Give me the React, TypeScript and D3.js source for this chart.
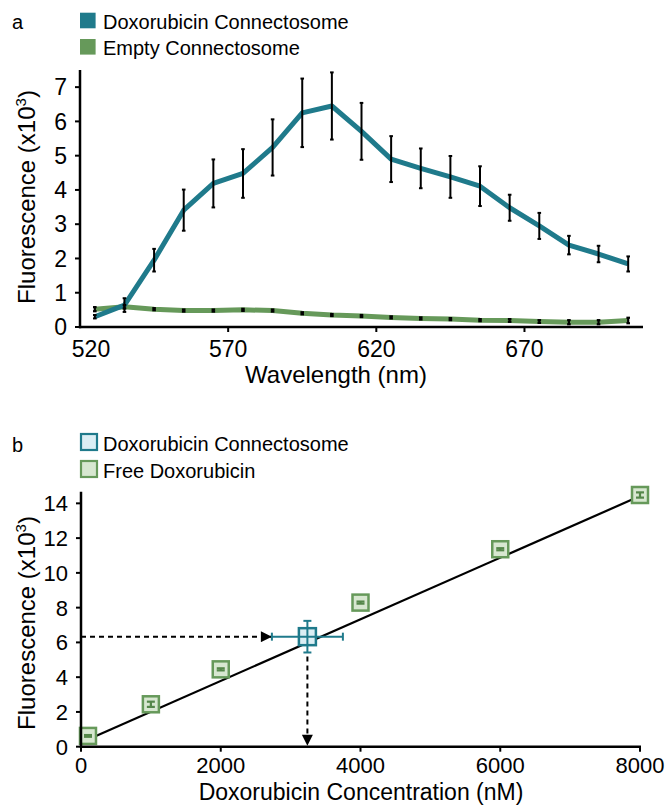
import React from 'react';
import * as d3 from 'd3';

// panel a: emission spectrum
const wavelengths = [525, 535, 545, 555, 565, 575, 585, 595, 605, 615, 625, 635, 645, 655, 665, 675, 685, 695, 705];
const doxoConnecto = [0.3, 0.64, 1.95, 3.41, 4.19, 4.48, 5.24, 6.25, 6.45, 5.71, 4.9, 4.63, 4.38, 4.11, 3.48, 2.95, 2.39, 2.13, 1.84];
const doxoConnectoErr = [0.05, 0.2, 0.33, 0.6, 0.7, 0.71, 0.82, 1.0, 0.98, 0.83, 0.67, 0.58, 0.61, 0.58, 0.38, 0.38, 0.27, 0.24, 0.22];
const emptyConnecto = [0.52, 0.59, 0.52, 0.48, 0.48, 0.5, 0.48, 0.4, 0.35, 0.32, 0.28, 0.25, 0.23, 0.2, 0.19, 0.16, 0.14, 0.14, 0.19];
const emptyConnectoErr = [0.06, 0.05, 0.03, 0.03, 0.03, 0.03, 0.03, 0.03, 0.03, 0.03, 0.03, 0.03, 0.03, 0.03, 0.04, 0.04, 0.06, 0.06, 0.08];
const wlTicks = [520, 570, 620, 670];
const fluoTicksA = [0, 1, 2, 3, 4, 5, 6, 7];

// panel b: standard curve
const freeConc = [100, 1000, 2000, 4000, 6000, 8000];
const freeFluo = [0.62, 2.44, 4.45, 8.29, 11.36, 14.48];
const freeFluoErr = [0.05, 0.15, 0.06, 0.06, 0.06, 0.15];
const fitX = [100, 8000];
const fitY = [0.42, 14.42];
const connectoConc = 3240;
const connectoConcErr = 508;
const connectoFluo = 6.33;
const connectoFluoErr = 0.91;
const concTicks = [0, 2000, 4000, 6000, 8000];
const fluoTicksB = [0, 2, 4, 6, 8, 10, 12, 14];

const BLUE = '#1f7a8b';
const GREEN = '#66995a';
const DKGREEN = '#55874a';
const LTGREEN = '#d7e7d0';
const LTBLUE = '#dbeef4';
const FONT = '"Liberation Sans", Arial, sans-serif';

function App() {
	// Scales
	const xA = d3.scaleLinear().domain([520, 710]).range([80, 643]);
	const yA = d3.scaleLinear().domain([0, 7.5]).range([327, 70]);
	const xB = d3.scaleLinear().domain([0, 8000]).range([81, 640]);
	const yB = d3.scaleLinear().domain([0, 14.67]).range([746.7, 491.7]);

	const lineA = d3
		.line<number>()
		.x((d, i) => xA(wavelengths[i]))
		.y((d) => yA(d));

	const errBar = (x: number, y0: number, y1: number, cap: number, color: string, w: number, key: string) => (
		<g key={key} stroke={color} strokeWidth={w}>
			<line x1={x} x2={x} y1={y0} y2={y1} />
			<line x1={x - cap} x2={x + cap} y1={y0} y2={y0} />
			<line x1={x - cap} x2={x + cap} y1={y1} y2={y1} />
		</g>
	);

	const hx = xB(connectoConc - connectoConcErr);
	const hy = yB(connectoFluo);
	const vx = xB(connectoConc);
	const vy0 = yB(connectoFluo - connectoFluoErr);
	const vy1 = yB(0);

	return (
		<svg width={670} height={809} style={{ position: 'absolute', left: 0, top: 0 }} fontFamily={FONT}>
			<rect width={670} height={809} fill="#fff" />

			{/* ---------- panel a ---------- */}
			<text x={12} y={29} fontSize={20}>a</text>
			<rect x={80} y={12.7} width={15.6} height={15.6} fill={BLUE} />
			<text x={103} y={29} fontSize={20}>Doxorubicin Connectosome</text>
			<rect x={80} y={39} width={15.6} height={15.6} fill={GREEN} />
			<text x={103} y={55} fontSize={20}>Empty Connectosome</text>

			{/* lines */}
			<path d={lineA(emptyConnecto) || ''} fill="none" stroke={GREEN} strokeWidth={5} strokeLinejoin="round" />
			<path d={lineA(doxoConnecto) || ''} fill="none" stroke={BLUE} strokeWidth={5} strokeLinejoin="round" />
			{emptyConnecto.map((v, i) =>
				errBar(xA(wavelengths[i]), yA(v - emptyConnectoErr[i]), yA(v + emptyConnectoErr[i]), 1.8, '#000', 2.2, 'e' + i)
			)}
			{doxoConnecto.map((v, i) =>
				errBar(xA(wavelengths[i]), yA(v - doxoConnectoErr[i]), yA(v + doxoConnectoErr[i]), 1.8, '#000', 2, 'd' + i)
			)}

			{/* axes */}
			<line x1={80} x2={80} y1={yA(7.5)} y2={yA(0) + 1.2} stroke="#000" strokeWidth={2.5} />
			<line x1={79} x2={643} y1={yA(0)} y2={yA(0)} stroke="#000" strokeWidth={2.5} />
			{fluoTicksA.map((t) => (
				<g key={'ya' + t}>
					<line x1={75} x2={80} y1={yA(t)} y2={yA(t)} stroke="#000" strokeWidth={2} />
					<text x={67} y={yA(t)} dy="0.36em" textAnchor="end" fontSize={23}>{t}</text>
				</g>
			))}
			{wlTicks.map((t, i) => (
				<g key={'xa' + t}>
					{i > 0 && <line x1={xA(t)} x2={xA(t)} y1={yA(0)} y2={yA(0) + 5} stroke="#000" strokeWidth={2} />}
					<text x={xA(t)} dx={i == 0 ? 11 : 0} y={357} textAnchor="middle" fontSize={23}>{t}</text>
				</g>
			))}
			<text x={336} y={383} textAnchor="middle" fontSize={24}>Wavelength (nm)</text>
			<text transform={`translate(35, 197) rotate(-90)`} textAnchor="middle" fontSize={24}>
				Fluorescence (x10<tspan fontSize={15} dy={-9}>3</tspan><tspan dy={9}>)</tspan>
			</text>

			{/* ---------- panel b ---------- */}
			<text x={12} y={452} fontSize={20}>b</text>
			<rect x={81} y={434} width={16} height={16} fill={LTBLUE} stroke={BLUE} strokeWidth={2.2} />
			<text x={103} y={451} fontSize={20}>Doxorubicin Connectosome</text>
			<rect x={81} y={461} width={16} height={16} fill={LTGREEN} stroke={GREEN} strokeWidth={2.2} />
			<text x={103} y={478} fontSize={20}>Free Doxorubicin</text>

			{/* dashed arrows */}
			<defs>
				<marker id="arr" viewBox="0 0 10 10" refX={10} refY={5} markerWidth={13} markerHeight={11} markerUnits="userSpaceOnUse" orient="auto">
					<path d="M0,0 L10,5 L0,10 Z" fill="#000" />
				</marker>
			</defs>
			<line x1={xB(0)} x2={hx} y1={hy} y2={hy} stroke="#000" strokeWidth={2} strokeDasharray="5,4" markerEnd="url(#arr)" />
			<line x1={vx} x2={vx} y1={vy0 + 4} y2={vy1 - 1} stroke="#000" strokeWidth={2} strokeDasharray="5,4" markerEnd="url(#arr)" />

			{/* fit */}
			<line x1={xB(fitX[0])} x2={xB(fitX[1])} y1={yB(fitY[0])} y2={yB(fitY[1])} stroke="#000" strokeWidth={2.2} />

			{/* free doxorubicin */}
			{freeConc.map((c, i) => (
				<g key={'f' + i}>
					<rect x={xB(c) - 8} y={yB(freeFluo[i]) - 8} width={16} height={16} fill={LTGREEN} stroke={GREEN} strokeWidth={2.5} />
					{errBar(xB(c), yB(freeFluo[i] - freeFluoErr[i]), yB(freeFluo[i] + freeFluoErr[i]), 4, DKGREEN, 2.2, 'fe' + i)}
				</g>
			))}

			{/* connectosome */}
			<rect x={vx - 8.5} y={hy - 8.5} width={17} height={17} fill={LTBLUE} stroke={BLUE} strokeWidth={2.5} />
			<g stroke={BLUE} strokeWidth={2}>
				<line x1={xB(connectoConc - connectoConcErr)} x2={xB(connectoConc + connectoConcErr)} y1={hy} y2={hy} />
				<line x1={xB(connectoConc - connectoConcErr)} x2={xB(connectoConc - connectoConcErr)} y1={hy - 4} y2={hy + 4} />
				<line x1={xB(connectoConc + connectoConcErr)} x2={xB(connectoConc + connectoConcErr)} y1={hy - 4} y2={hy + 4} />
				<line x1={vx} x2={vx} y1={yB(connectoFluo + connectoFluoErr)} y2={vy0} />
				<line x1={vx - 4} x2={vx + 4} y1={yB(connectoFluo + connectoFluoErr)} y2={yB(connectoFluo + connectoFluoErr)} />
				<line x1={vx - 4} x2={vx + 4} y1={vy0} y2={vy0} />
			</g>

			{/* axes */}
			<line x1={81} x2={81} y1={yB(14.67)} y2={yB(0) + 1.2} stroke="#000" strokeWidth={2.5} />
			<line x1={80} x2={641} y1={yB(0)} y2={yB(0)} stroke="#000" strokeWidth={2.5} />
			{fluoTicksB.map((t) => (
				<g key={'yb' + t}>
					<line x1={76} x2={81} y1={yB(t)} y2={yB(t)} stroke="#000" strokeWidth={2} />
					<text x={68} y={yB(t)} dy="0.36em" textAnchor="end" fontSize={22}>{t}</text>
				</g>
			))}
			{concTicks.map((t) => (
				<g key={'xb' + t}>
					<line x1={xB(t)} x2={xB(t)} y1={yB(0)} y2={yB(0) + 5} stroke="#000" strokeWidth={2} />
					<text x={xB(t)} y={773} textAnchor="middle" fontSize={22}>{t}</text>
				</g>
			))}
			<text x={361} y={800} textAnchor="middle" fontSize={23}>Doxorubicin Concentration (nM)</text>
			<text transform={`translate(35, 623) rotate(-90)`} textAnchor="middle" fontSize={24}>
				Fluorescence (x10<tspan fontSize={15} dy={-9}>3</tspan><tspan dy={9}>)</tspan>
			</text>
		</svg>
	);
}

export default App;
